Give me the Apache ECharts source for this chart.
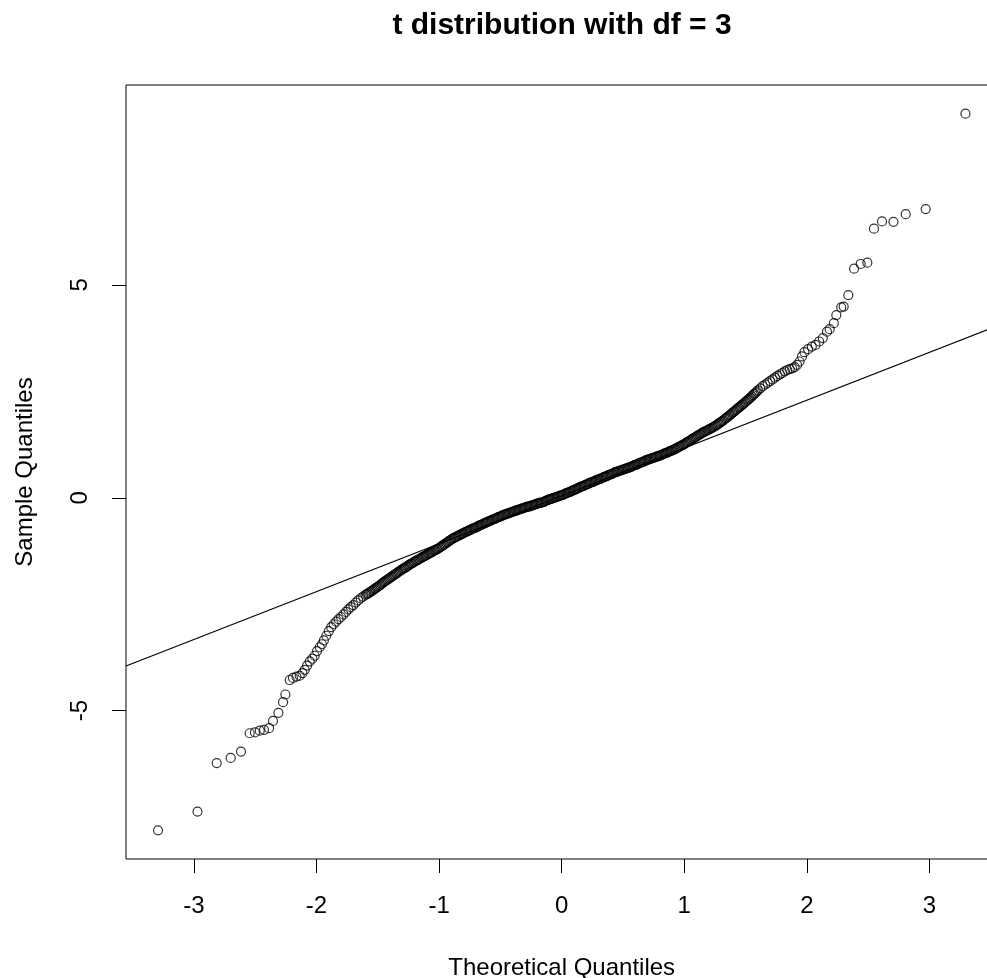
<!DOCTYPE html>
<html>
<head>
<meta charset="utf-8">
<title>t distribution with df = 3</title>
<script src="https://cdn.jsdelivr.net/npm/echarts@6.0.0/dist/echarts.min.js"></script>
<style>
  html, body { margin: 0; padding: 0; background: #fff; }
  #chart { width: 987px; height: 978px; }
</style>
</head>
<body>
<div id="chart"></div>
<script>
// tick positions
var xTicks = [-3, -2, -1, 0, 1, 2, 3];
var yTicks = [-5, 0, 5];

// lower tail, points read one by one
var lowerTail = [
  [-3.293,-7.81],[-2.971,-7.37],[-2.814,-6.23],[-2.700,-6.11],[-2.616,-5.96],
  [-2.545,-5.53],[-2.502,-5.51],[-2.463,-5.47],[-2.428,-5.45],[-2.387,-5.41],
  [-2.355,-5.24],[-2.311,-5.05],[-2.273,-4.80],[-2.254,-4.62],[-2.219,-4.28],
  [-2.192,-4.23],[-2.164,-4.20],[-2.137,-4.18],[-2.115,-4.12],[-2.096,-4.04],
  [-2.077,-3.94],[-2.055,-3.84],[-2.034,-3.78],[-2.015,-3.71],[-1.996,-3.60],
  [-1.974,-3.51],[-1.956,-3.44]
];

// dense band (lower shoulder)
var bandLow = [
  [-1.94,-3.35],[-1.92,-3.24],[-1.90,-3.13],[-1.88,-3.04],[-1.86,-2.97],
  [-1.84,-2.91],[-1.82,-2.85],[-1.80,-2.80],[-1.78,-2.74],[-1.76,-2.68],
  [-1.74,-2.62],[-1.72,-2.57],[-1.70,-2.52],[-1.68,-2.46],[-1.66,-2.41],
  [-1.64,-2.36],[-1.62,-2.32]
];

// dense band (centre)
var bandMid = [
  [-1.60,-2.28],[-1.59,-2.26],[-1.58,-2.25],[-1.57,-2.23],[-1.56,-2.21],[-1.55,-2.19],[-1.54,-2.17],[-1.53,-2.15],[-1.52,-2.13],[-1.51,-2.11],
  [-1.50,-2.09],[-1.49,-2.07],[-1.48,-2.05],[-1.47,-2.02],[-1.46,-2.00],[-1.45,-1.98],[-1.44,-1.96],[-1.43,-1.94],[-1.42,-1.92],[-1.41,-1.90],
  [-1.40,-1.88],[-1.39,-1.86],[-1.38,-1.84],[-1.37,-1.82],[-1.36,-1.80],[-1.35,-1.78],[-1.34,-1.76],[-1.33,-1.74],[-1.32,-1.72],[-1.31,-1.70],
  [-1.30,-1.68],[-1.29,-1.66],[-1.28,-1.65],[-1.27,-1.63],[-1.26,-1.61],[-1.25,-1.59],[-1.24,-1.57],[-1.23,-1.55],[-1.22,-1.54],[-1.21,-1.52],
  [-1.20,-1.50],[-1.19,-1.48],[-1.18,-1.47],[-1.17,-1.45],[-1.16,-1.44],[-1.15,-1.42],[-1.14,-1.40],[-1.13,-1.39],[-1.12,-1.37],[-1.11,-1.36],
  [-1.10,-1.34],[-1.09,-1.32],[-1.08,-1.31],[-1.07,-1.29],[-1.06,-1.28],[-1.05,-1.26],[-1.04,-1.24],[-1.03,-1.23],[-1.02,-1.21],[-1.01,-1.20],
  [-1.00,-1.18],[-0.99,-1.16],[-0.98,-1.14],[-0.97,-1.12],[-0.96,-1.10],[-0.95,-1.08],[-0.94,-1.06],[-0.93,-1.04],[-0.92,-1.02],[-0.91,-1.00],
  [-0.90,-0.98],[-0.89,-0.96],[-0.88,-0.95],[-0.87,-0.93],[-0.86,-0.92],[-0.85,-0.90],[-0.84,-0.89],[-0.83,-0.87],[-0.82,-0.86],[-0.81,-0.84],
  [-0.80,-0.83],[-0.79,-0.81],[-0.78,-0.80],[-0.77,-0.79],[-0.76,-0.77],[-0.75,-0.76],[-0.74,-0.75],[-0.73,-0.73],[-0.72,-0.72],[-0.71,-0.71],
  [-0.70,-0.70],[-0.69,-0.68],[-0.68,-0.67],[-0.67,-0.65],[-0.66,-0.64],[-0.65,-0.63],[-0.64,-0.61],[-0.63,-0.60],[-0.62,-0.59],[-0.61,-0.57],
  [-0.60,-0.56],[-0.59,-0.55],[-0.58,-0.54],[-0.57,-0.52],[-0.56,-0.51],[-0.55,-0.50],[-0.54,-0.49],[-0.53,-0.47],[-0.52,-0.46],[-0.51,-0.45],
  [-0.50,-0.44],[-0.49,-0.43],[-0.48,-0.41],[-0.47,-0.40],[-0.46,-0.39],[-0.45,-0.38],[-0.44,-0.37],[-0.43,-0.36],[-0.42,-0.35],[-0.41,-0.34],
  [-0.40,-0.33],[-0.39,-0.32],[-0.38,-0.31],[-0.37,-0.30],[-0.36,-0.29],[-0.35,-0.28],[-0.34,-0.27],[-0.33,-0.26],[-0.32,-0.25],[-0.31,-0.24],
  [-0.30,-0.23],[-0.29,-0.22],[-0.28,-0.21],[-0.27,-0.21],[-0.26,-0.20],[-0.25,-0.19],[-0.24,-0.18],[-0.23,-0.17],[-0.22,-0.16],[-0.21,-0.15],
  [-0.20,-0.14],[-0.19,-0.13],[-0.18,-0.12],[-0.17,-0.12],[-0.16,-0.11],[-0.15,-0.10],[-0.14,-0.09],[-0.13,-0.07],[-0.12,-0.06],[-0.11,-0.05],
  [-0.10,-0.04],[-0.09,-0.03],[-0.08,-0.02],[-0.07,-0.01],[-0.06,0.00],[-0.05,0.01],[-0.04,0.02],[-0.03,0.03],[-0.02,0.04],[-0.01,0.05],
  [0.00,0.06],[0.01,0.07],[0.02,0.08],[0.03,0.10],[0.04,0.11],[0.05,0.12],[0.06,0.13],[0.07,0.14],[0.08,0.16],[0.09,0.17],
  [0.10,0.18],[0.11,0.19],[0.12,0.21],[0.13,0.22],[0.14,0.23],[0.15,0.25],[0.16,0.26],[0.17,0.27],[0.18,0.28],[0.19,0.30],
  [0.20,0.31],[0.21,0.32],[0.22,0.33],[0.23,0.35],[0.24,0.36],[0.25,0.37],[0.26,0.38],[0.27,0.39],[0.28,0.41],[0.29,0.42],
  [0.30,0.43],[0.31,0.44],[0.32,0.45],[0.33,0.47],[0.34,0.48],[0.35,0.49],[0.36,0.50],[0.37,0.51],[0.38,0.53],[0.39,0.54],
  [0.40,0.55],[0.41,0.56],[0.42,0.57],[0.43,0.59],[0.44,0.60],[0.45,0.61],[0.46,0.62],[0.47,0.63],[0.48,0.64],[0.49,0.65],
  [0.50,0.66],[0.51,0.67],[0.52,0.68],[0.53,0.69],[0.54,0.70],[0.55,0.71],[0.56,0.72],[0.57,0.73],[0.58,0.75],[0.59,0.76],
  [0.60,0.77],[0.61,0.78],[0.62,0.79],[0.63,0.81],[0.64,0.82],[0.65,0.83],[0.66,0.84],[0.67,0.85],[0.68,0.87],[0.69,0.88],
  [0.70,0.89],[0.71,0.90],[0.72,0.91],[0.73,0.92],[0.74,0.93],[0.75,0.94],[0.76,0.95],[0.77,0.96],[0.78,0.97],[0.79,0.98],
  [0.80,0.99],[0.81,1.00],[0.82,1.01],[0.83,1.03],[0.84,1.04],[0.85,1.05],[0.86,1.06],[0.87,1.07],[0.88,1.09],[0.89,1.10],
  [0.90,1.11],[0.91,1.12],[0.92,1.14],[0.93,1.15],[0.94,1.17],[0.95,1.18],[0.96,1.20],[0.97,1.21],[0.98,1.23],[0.99,1.24],
  [1.00,1.26],[1.01,1.28],[1.02,1.30],[1.03,1.31],[1.04,1.33],[1.05,1.35],[1.06,1.37],[1.07,1.39],[1.08,1.40],[1.09,1.42],
  [1.10,1.44],[1.11,1.46],[1.12,1.48],[1.13,1.49],[1.14,1.51],[1.15,1.53],[1.16,1.54],[1.17,1.56],[1.18,1.57],[1.19,1.59],
  [1.20,1.60],[1.21,1.62],[1.22,1.63],[1.23,1.65],[1.24,1.66],[1.25,1.68],[1.26,1.70],[1.27,1.72],[1.28,1.74],[1.29,1.76],
  [1.30,1.78],[1.31,1.80],[1.32,1.82],[1.33,1.85],[1.34,1.87],[1.35,1.89],[1.36,1.91],[1.37,1.94],[1.38,1.96],[1.39,1.99],
  [1.40,2.01],[1.41,2.03],[1.42,2.06],[1.43,2.08],[1.44,2.11],[1.45,2.13],[1.46,2.15],[1.47,2.18],[1.48,2.20],[1.49,2.23],
  [1.50,2.25],[1.51,2.28],[1.52,2.30],[1.53,2.33],[1.54,2.35],[1.55,2.38],[1.56,2.41],[1.57,2.44],[1.58,2.46],[1.59,2.49],
  [1.60,2.52]
];

// dense band (upper shoulder)
var bandHigh = [
  [1.62,2.57],[1.64,2.62],[1.66,2.66],[1.68,2.70],[1.70,2.74],
  [1.72,2.78],[1.74,2.82],[1.76,2.86],[1.78,2.90],[1.80,2.93],
  [1.82,2.97],[1.84,3.00],[1.86,3.02],[1.88,3.04],[1.90,3.07],
  [1.92,3.12],[1.94,3.20],[1.96,3.32],[1.98,3.42]
];

// upper tail, points read one by one
var upperTail = [
  [2.01,3.49],[2.04,3.55],[2.07,3.59],[2.10,3.67],[2.13,3.75],
  [2.164,3.90],[2.186,3.96],[2.22,4.10],[2.24,4.29],[2.28,4.47],
  [2.30,4.49],[2.338,4.76],[2.385,5.38],[2.439,5.49],[2.493,5.52],
  [2.547,6.32],[2.613,6.49],[2.706,6.48],[2.806,6.66],[2.969,6.78],
  [3.293,9.02]
];

// qqline, end points at the plot edges
var lineX = [-3.554, 3.554];
var lineY = [-3.95, 4.04];

var font = "'Liberation Sans', Arial, sans-serif";
var chart = echarts.init(document.getElementById('chart'));

var points = lowerTail.concat(bandLow, bandMid, bandHigh, upperTail);

var option = {
  animation: false,
  backgroundColor: '#fff',
  title: {
    text: 't distribution with df = 3',
    left: 562,
    top: 11,
    padding: 0,
    textAlign: 'center',
    textStyle: { fontSize: 30, fontWeight: 'bold', color: '#000', fontFamily: font }
  },
  grid: {
    left: 126, right: -10.4, top: 85, bottom: 119,
    outerBoundsMode: 'none',
    show: true, borderColor: '#000', borderWidth: 1, backgroundColor: 'transparent'
  },
  xAxis: {
    type: 'value', min: -3.554, max: 3.554,
    axisLine: { show: false, onZero: false },
    splitLine: { show: false },
    axisTick: { show: true, inside: false, length: 14, lineStyle: { color: '#000', width: 1 }, customValues: xTicks },
    axisLabel: { customValues: xTicks, margin: 35, fontSize: 24, color: '#000', fontFamily: font },
    name: 'Theoretical Quantiles', nameLocation: 'middle', nameGap: 97,
    nameTextStyle: { fontSize: 24, color: '#000', fontFamily: font }
  },
  yAxis: {
    type: 'value', min: -8.483, max: 9.693,
    axisLine: { show: false, onZero: false },
    splitLine: { show: false },
    axisTick: { show: true, inside: false, length: 14, lineStyle: { color: '#000', width: 1 }, customValues: yTicks },
    axisLabel: { customValues: yTicks, rotate: 90, margin: 34, fontSize: 24, color: '#000', fontFamily: font },
    name: 'Sample Quantiles', nameLocation: 'middle', nameGap: 89, nameRotate: 90,
    nameTextStyle: { fontSize: 24, color: '#000', fontFamily: font }
  },
  series: [
    {
      type: 'scatter',
      data: points,
      symbol: 'circle',
      symbolSize: 9,
      silent: true,
      itemStyle: { color: 'rgba(0,0,0,0)', borderColor: '#000', borderWidth: 1.2 }
    },
    {
      type: 'line',
      data: [[lineX[0], lineY[0]], [lineX[1], lineY[1]]],
      symbol: 'none',
      silent: true,
      lineStyle: { color: '#000', width: 1.2 }
    }
  ]
};

chart.setOption(option);
</script>
</body>
</html>
